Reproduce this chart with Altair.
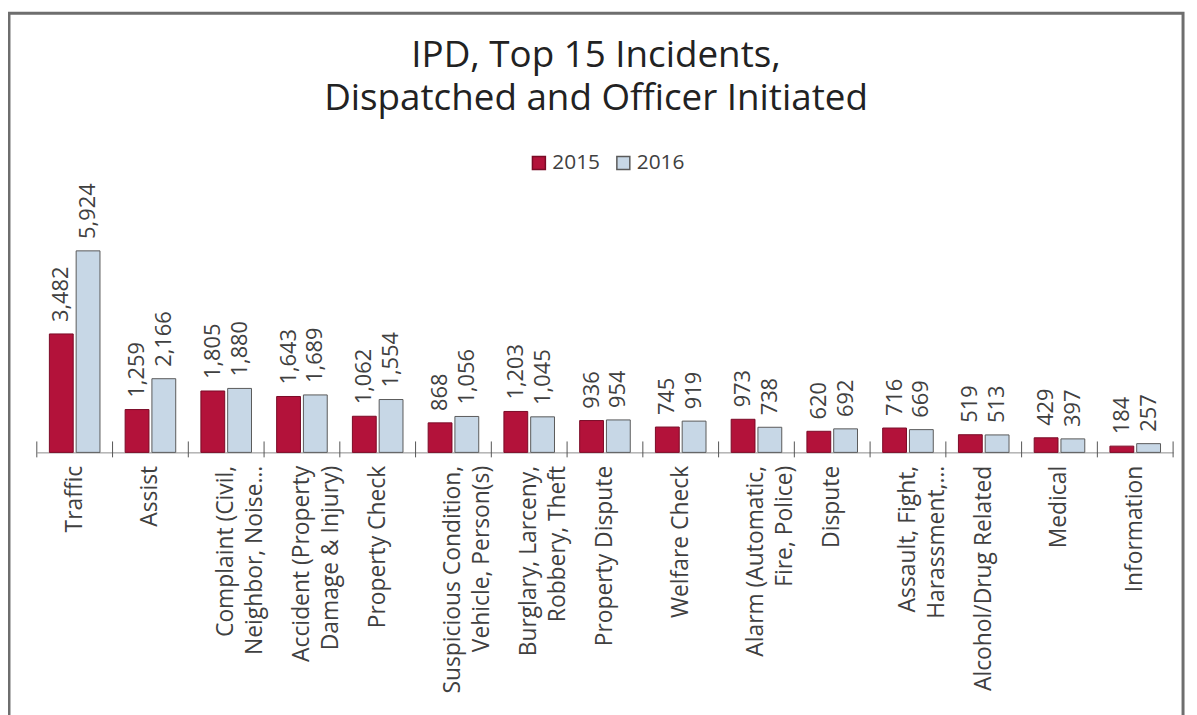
import altair as alt
import pandas as pd

categories = [
    "Traffic", "Assist", "Complaint (Civil,|Neighbor, Noise…",
    "Accident (Property|Damage & Injury)", "Property Check",
    "Suspicious Condition,|Vehicle, Person(s)", "Burglary, Larceny,|Robbery, Theft",
    "Property Dispute", "Welfare Check", "Alarm (Automatic,|Fire, Police)",
    "Dispute", "Assault, Fight,|Harassment,…", "Alcohol/Drug Related",
    "Medical", "Information",
]
values_2015 = [3482, 1259, 1805, 1643, 1062, 868, 1203, 936, 745, 973, 620, 716, 519, 429, 184]
values_2016 = [5924, 2166, 1880, 1689, 1554, 1056, 1045, 954, 919, 738, 692, 669, 513, 397, 257]
years = ["2015", "2016"]

rows = []
for c, a, b in zip(categories, values_2015, values_2016):
    rows.append({"cat": c, "year": "2015", "value": a})
    rows.append({"cat": c, "year": "2016", "value": b})
df = pd.DataFrame(rows)

W, H = 1144, 250
FONT = "Open Sans"

xscale = alt.Scale(domain=categories, paddingInner=0, paddingOuter=0)
xoff = alt.Scale(domain=years, paddingInner=0.11, paddingOuter=0.47)
yscale = alt.Scale(domain=[0, 7300], nice=False)

legend_cfg = dict(title=None, orient="none", legendX=495, legendY=-52,
                  direction="horizontal", symbolType="square",
                  symbolSize=170, symbolStrokeWidth=1.5,
                  labelFontSize=21, labelFont=FONT, labelColor="#404040",
                  columnPadding=12, labelOffset=3)

base = alt.Chart(df)

bars = base.mark_bar(strokeWidth=1).encode(
    x=alt.X("cat:N", scale=xscale, sort=categories,
            axis=alt.Axis(title=None, labelAngle=-90, ticks=False, domainColor="#8c8c8c",
                          labelExpr="split(datum.label, '|')", labelFontSize=23,
                          labelLineHeight=29, labelPadding=13, labelLimit=400,
                          labelColor="#404040", labelFont=FONT)),
    xOffset=alt.XOffset("year:N", scale=xoff),
    y=alt.Y("value:Q", scale=yscale, axis=None),
    fill=alt.Fill("year:N", scale=alt.Scale(domain=years, range=["#b3123a", "#c7d7e6"]),
                  legend=alt.Legend(**legend_cfg)),
    stroke=alt.Stroke("year:N", scale=alt.Scale(domain=years, range=["#7a0a26", "#5a5a5a"]),
                      legend=alt.Legend(**legend_cfg)),
)

labels = base.mark_text(angle=270, align="left", baseline="middle", dx=12,
                        fontSize=22, font=FONT, color="#404040").encode(
    x=alt.X("cat:N", scale=xscale, sort=categories),
    xOffset=alt.XOffset("year:N", scale=xoff),
    y=alt.Y("value:Q", scale=yscale),
    text=alt.Text("value:Q", format=","),
)

ticks_df = pd.DataFrame({"cat": categories})
ticks = alt.Chart(ticks_df).mark_rule(color="#555555", strokeWidth=1).encode(
    x=alt.X("cat:N", scale=xscale, sort=categories, bandPosition=0),
    y=alt.value(H - 11),
    y2=alt.value(H + 5),
)
end_tick = alt.Chart(pd.DataFrame({"k": [0]})).mark_rule(color="#555555", strokeWidth=1).encode(
    x=alt.value(W), y=alt.value(H - 11), y2=alt.value(H + 5),
)
frame = alt.Chart(pd.DataFrame({"k": [0]})).mark_rect(
    filled=False, stroke="#6e6e6e", strokeWidth=3).encode(
    x=alt.value(-28), x2=alt.value(W + 10), y=alt.value(-192), y2=alt.value(H + 290),
)

chart = alt.layer(frame, bars, labels, ticks, end_tick).properties(
    width=W, height=H,
    background="white",
    title=alt.Title(["IPD, Top 15 Incidents,", "Dispatched and Officer Initiated"],
                    fontSize=37, font=FONT, fontWeight="normal", color="#222222",
                    anchor="middle", lineHeight=43, offset=0, dx=-9, dy=136,
                    baseline="alphabetic"),
    autosize=alt.AutoSizeParams(type="none"),
    padding={"left": 29, "top": 195, "right": 16, "bottom": 262},
).configure_view(stroke=None)

chart.save("out.html", embed_options={"renderer": "svg", "actions": False})
